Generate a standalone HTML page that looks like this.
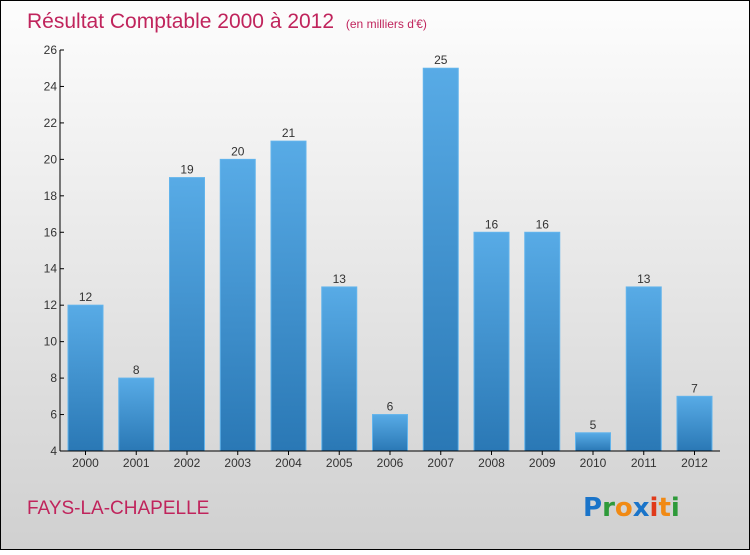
<!DOCTYPE html>
<html><head><meta charset="utf-8"><style>
body{margin:0;width:750px;height:550px;overflow:hidden;font-family:"Liberation Sans",sans-serif}
</style></head><body>
<svg id="c" width="750" height="550" xmlns="http://www.w3.org/2000/svg">
<defs>
<linearGradient id="bg" x1="0" y1="0" x2="0" y2="1"><stop offset="0" stop-color="#fdfdfd"/><stop offset="1" stop-color="#d0d0d0"/></linearGradient>
<linearGradient id="bar" x1="0" y1="0" x2="0" y2="1"><stop offset="0" stop-color="#58abe6"/><stop offset="1" stop-color="#2a78b5"/></linearGradient>
</defs>
<rect x="0.5" y="0.5" width="749" height="549" fill="url(#bg)" stroke="#000"/>
<text x="27" y="28" font-size="21" fill="#c0245c">Résultat Comptable 2000 à 2012 <tspan font-size="12" dx="6">(en milliers d'€)</tspan></text>
<text x="27" y="514" font-size="19" fill="#c0245c">FAYS-LA-CHAPELLE</text>
<g font-size="26" font-weight="bold" font-family="'DejaVu Sans',sans-serif">
<text x="583" y="516"><tspan fill="#1a74c9">P</tspan><tspan fill="#2e9a3a">r</tspan><tspan fill="#f18a14">o</tspan><tspan fill="#1a74c9">x</tspan><tspan fill="#e03a1a">i</tspan><tspan fill="#f18a14">t</tspan><tspan fill="#2e9a3a">i</tspan></text>
</g>
<g id="plot"></g>
</svg>
<script>
const categories=["2000","2001","2002","2003","2004","2005","2006","2007","2008","2009","2010","2011","2012"];
const values=[12,8,19,20,21,13,6,25,16,16,5,13,7];
const yTicks=[4,6,8,10,12,14,16,18,20,22,24,26];
const NS="http://www.w3.org/2000/svg";
const g=document.getElementById("plot");
const x0=60,x1=720,yTop=50,yBot=451,vMin=4,vMax=26;
const y=v=>yBot-(v-vMin)*(yBot-yTop)/(vMax-vMin);
const step=50.75,bw=35,first=68;
const xb=i=>first+i*step;
function el(t,a,txt){const e=document.createElementNS(NS,t);for(const k in a)e.setAttribute(k,a[k]);if(txt!==undefined)e.textContent=txt;g.appendChild(e);return e;}
categories.forEach((c,i)=>{
 const r=el("rect",{x:xb(i),y:y(values[i]),width:bw,height:yBot-y(values[i]),fill:"url(#bar)",stroke:"#62b4ec","stroke-width":1});
 
 
 const l=el("text",{x:xb(i)+bw/2,y:y(values[i])-4,"text-anchor":"middle","font-size":12,fill:"#333"},String(values[i]));
 
 
 const t=el("text",{x:xb(i)+bw/2,y:467,"text-anchor":"middle","font-size":12,fill:"#333"},c);
 
 
 el("line",{x1:xb(i)+bw/2,x2:xb(i)+bw/2,y1:yBot,y2:yBot+4,stroke:"#000"});
});
yTicks.forEach(v=>{
 el("line",{x1:x0,x2:x0+4,y1:y(v),y2:y(v),stroke:"#000"});
 const t=el("text",{x:x0-3,y:y(v)+4,"text-anchor":"end","font-size":12,fill:"#333"},String(v));
 
 
});
const ya=el("line",{x1:x0,x2:x0,y1:yTop,y2:yBot,stroke:"#000"});


const xa=el("line",{x1:x0,x2:x1,y1:yBot,y2:yBot,stroke:"#000"});


</script>
</body></html>
